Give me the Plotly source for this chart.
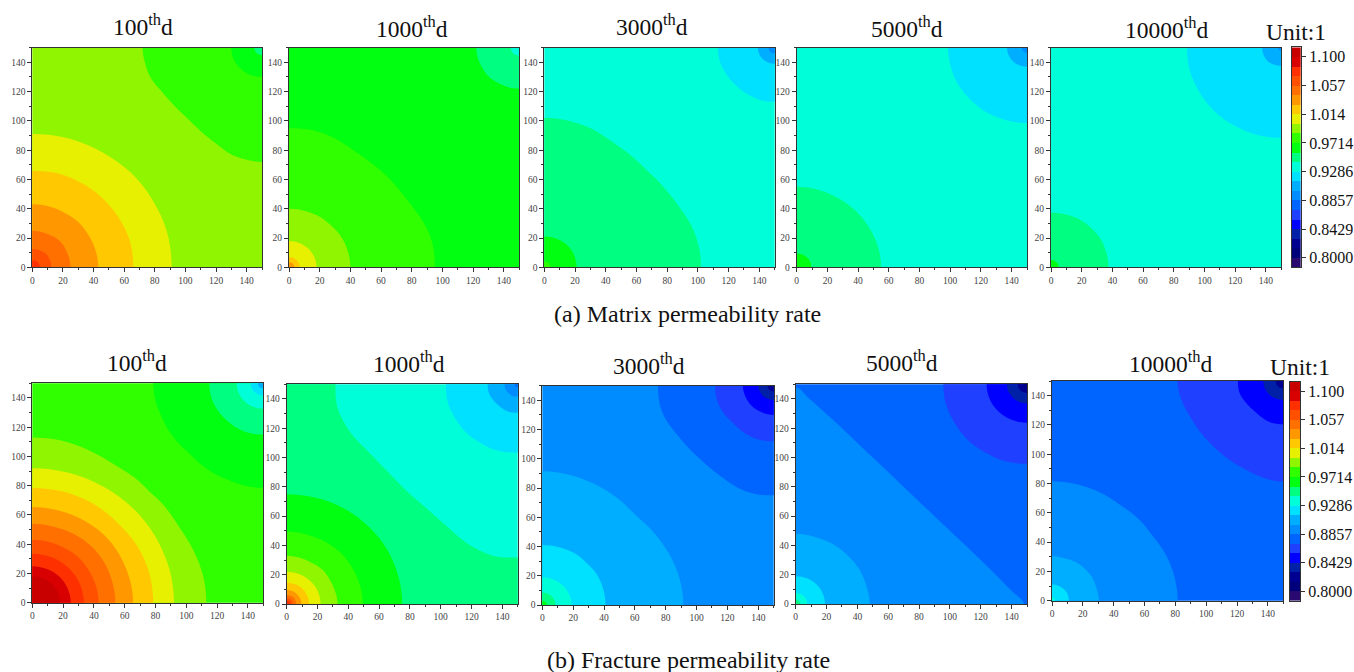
import plotly.graph_objects as go

# ---- colour key: band value, colour, tick labels ----
band_values = [0.7929, 0.8071, 0.8214, 0.8357, 0.85, 0.8643, 0.8786, 0.8929, 0.9071, 0.9214, 0.9357, 0.95,
               0.9643, 0.9786, 0.9929, 1.0071, 1.0214, 1.0357, 1.05, 1.0643, 1.0786, 1.0929, 1.1071]
band_colors = ["#2a0a70", "#00007a", "#000090", "#0020a8", "#0000ff", "#2040ff", "#0064ff", "#008cff",
               "#00aeff", "#00e0ff", "#00ffd8", "#00ff80", "#00ff10", "#30ff00", "#90f500", "#e6f000",
               "#ffc800", "#ff9800", "#ff7000", "#ff5000", "#ff3000", "#d80000", "#c80000"]
key_tick_values = [1.1, 1.0571, 1.0143, 0.9714, 0.9286, 0.8857, 0.8429, 0.8]
key_tick_labels = ["1.100", "1.057", "1.014", "0.9714", "0.9286", "0.8857", "0.8429", "0.8000"]
axis_ticks = [0, 20, 40, 60, 80, 100, 120, 140]
axis_minor_ticks = [10, 30, 50, 70, 90, 110, 130, 150]

# ---- iso-band boundaries ----
# (band index, x along half the curve, y along half the curve); the field mirrors across y = x
a100_bg = 14
a100_low = [(15, [91, 88, 78.5, 64.5], [0, 24, 46, 64.5]), (16, [66, 64, 57, 46.5], [0, 17, 33, 46.5]),
            (17, [43, 41.5, 37, 30.5], [0, 11, 21.5, 30.5]), (18, [25, 23, 18], [0, 9.5, 18]),
            (19, [12.5, 11.5, 9], [0, 5, 9]), (20, [5, 4.6, 3.5], [0, 1.9, 3.5])]
a100_high = [(13, [150, 140, 130, 120, 110, 101.5], [72, 73.5, 77, 84.5, 93, 101.5]),
             (12, [150, 142, 135.9], [130, 131.5, 135.9]),
             (11, [150, 148, 146.5], [145, 145.4, 146.5])]

a1000_bg = 12
a1000_low = [(13, [95, 93.5, 88, 77, 63], [0, 16, 30, 46, 63]), (14, [40, 38.5, 34.5, 28], [0, 10.5, 20, 28]),
             (15, [18, 16.5, 12.7], [0, 7, 12.7]), (16, [7, 6.5, 5], [0, 2.6, 5]),
             (17, [3.5, 3.2, 2.5], [0, 1.3, 2.5])]
a1000_high = [(11, [150, 143, 136, 130.2], [122, 123, 126, 130.2]), (10, [150, 148, 146], [144.5, 145, 146])]

a3000_bg = 10
a3000_low = [(11, [102, 101, 96, 86, 75, 66.5], [0, 12, 28, 44, 58, 66.5]), (12, [21, 19.5, 15], [0, 8, 15]),
             (13, [4, 3.7, 2.8], [0, 1.5, 2.8])]
a3000_high = [(9, [150, 140, 131, 124.5], [113, 114.5, 119, 124.5]), (8, [150, 146, 142.2], [139, 139.8, 142.2]),
              (7, [150, 148.5, 147.2], [146, 146.3, 147.2])]

a5000_bg = 10
a5000_low = [(11, [55, 53, 47, 38.5], [0, 14, 27.5, 38.5]), (12, [9.5, 8.8, 6.7], [0, 3.6, 6.7])]
a5000_high = [(9, [150, 136.5, 125, 113.8], [98.5, 100.5, 105, 113.8]), (8, [150, 145, 140.8], [137, 138, 140.8]),
              (7, [150, 148.7, 147.5], [146.5, 146.8, 147.5])]

a10000_bg = 10
a10000_low = [(11, [37.5, 36, 32.5, 26.5], [0, 10, 19, 26.5]), (12, [5, 4.6, 3.5], [0, 1.9, 3.5])]
a10000_high = [(9, [150, 134, 119, 106.5], [88.5, 90.5, 97, 106.5]), (8, [150, 145, 141], [137.5, 138.5, 141]),
               (7, [150, 149.2, 148.6], [148, 148.2, 148.6])]

b100_bg = 13
b100_low = [(14, [113, 111, 104.5, 94, 85, 76], [0, 18, 36, 54, 67, 76]), (15, [92, 89, 79.5, 65], [0, 23, 46, 65]),
            (16, [78.5, 76, 68, 55], [0, 20, 39, 55]), (17, [65.5, 63, 56.5, 46.5], [0, 17, 33, 46.5]),
            (18, [54, 52, 47, 38.5], [0, 14, 27, 38.5]), (19, [43, 41.5, 37, 30.5], [0, 11, 21.5, 30.5]),
            (20, [33.5, 31, 23.7], [0, 12.5, 23.7]), (21, [25, 23, 17.7], [0, 9.5, 17.7]),
            (22, [18, 16.6, 12.7], [0, 7, 12.7])]
b100_high = [(12, [150, 138, 127, 117, 109, 102], [78.6, 80, 84, 89, 95, 102]),
             (11, [150, 141, 133, 125.5], [115, 116, 119.5, 125.5]),
             (10, [150, 143.5, 137.8], [132.7, 134, 137.8]), (9, [150, 146.8, 144.2], [141.8, 142.4, 144.2]),
             (8, [150, 148.7, 147.5], [146.5, 146.8, 147.5])]

b1000_bg = 10
b1000_low = [(11, [150, 134, 117, 104, 90, 77.5], [31.7, 33, 41.5, 53, 66, 77.5]),
             (12, [75, 72.5, 65, 53], [0, 19, 37.5, 53]), (13, [49.5, 47.5, 42.5, 35], [0, 13, 25, 35]),
             (14, [33, 31.5, 28, 23.3], [0, 8.5, 16.5, 23.3]), (15, [22, 20.3, 15.5], [0, 8.4, 15.5]),
             (16, [14.5, 13.4, 10.3], [0, 5.5, 10.3]), (17, [9.5, 8.8, 6.7], [0, 3.6, 6.7]),
             (18, [6.2, 5.7, 4.4], [0, 2.4, 4.4]), (19, [4, 3.7, 2.8], [0, 1.5, 2.8]),
             (20, [2.2, 2, 1.6], [0, 0.8, 1.6])]
b1000_high = [(9, [150, 136, 125, 116.8], [103.3, 105, 110.5, 116.8]), (8, [150, 143.5, 136.5], [130.5, 131.5, 136.5]),
              (7, [150, 146.8, 144], [141.5, 142, 144]), (6, [150, 149.2, 148.6], [148, 148.2, 148.6])]

b3000_bg = 7
b3000_low = [(8, [91.5, 89, 82.7, 72, 61], [0, 18, 34, 50, 61]), (9, [41, 39.5, 35, 28.7], [0, 11, 21.5, 28.7]),
             (10, [19, 17.5, 13.4], [0, 7, 13.4]), (11, [8.5, 7.9, 6], [0, 3.2, 6]), (12, [3, 2.8, 2.1], [0, 1.1, 2.1])]
b3000_high = [(6, [150, 138, 127, 117, 109, 101], [75, 76, 80, 87, 93.5, 101]),
              (5, [150, 141, 132, 124], [112, 113, 117, 124]),
              (4, [150, 143, 136], [130, 131.5, 136]), (3, [150, 146, 143], [140, 141, 143]),
              (2, [150, 148.5, 147.2], [146, 146.3, 147.2])]

b5000_bg = 6
b5000_low = [(7, [148, 140, 125, 100, 75], [0, 9, 25, 50, 75]), (8, [48, 46, 41, 33.5], [0, 12, 24, 33.5]),
             (9, [19, 17.5, 13.4], [0, 7.3, 13.4]), (10, [7.5, 6.9, 5.3], [0, 2.9, 5.3]), (11, [3, 2.8, 2.1], [0, 1.1, 2.1])]
b5000_high = [(5, [150, 136, 122, 111.8], [95.8, 97.5, 104, 111.8]), (4, [150, 140, 131.5], [123.8, 125.8, 131.5]),
              (3, [150, 145, 140.8], [137, 138, 140.8]), (2, [150, 147.7, 145.8], [144, 144.5, 145.8]),
              (1, [150, 149.2, 148.6], [148, 148.2, 148.6])]

b10000_bg = 6
b10000_low = [(7, [81.5, 79.5, 74, 65.5, 56], [0, 16, 31, 44, 56]), (8, [30.5, 29, 26, 21.5], [0, 8, 16, 21.5]),
              (9, [11, 10.2, 7.8], [0, 4.2, 7.8]), (10, [2, 1.8, 1.4], [0, 0.8, 1.4])]
b10000_high = [(5, [150, 137, 124, 114, 105], [81.3, 84, 90.5, 97, 105]), (4, [150, 141, 130.3], [120.5, 122, 130.3]),
               (3, [150, 145, 140.8], [137, 138, 140.8]), (2, [150, 148, 146.5], [145, 145.4, 146.5])]

# ---- page layout, in screen pixels ----
W, H = 1354, 672
panels = [
    ("100<sup>th</sup>d", a100_bg, a100_low, a100_high, (32.3, 262, 47.7, 267.3), (143, 25)),
    ("1000<sup>th</sup>d", a1000_bg, a1000_low, a1000_high, (289, 519.3, 47.7, 267.3), (412, 27)),
    ("3000<sup>th</sup>d", a3000_bg, a3000_low, a3000_high, (544.3, 774.7, 47.7, 267.3), (652, 25)),
    ("5000<sup>th</sup>d", a5000_bg, a5000_low, a5000_high, (796.7, 1027, 47.7, 267.3), (907, 27)),
    ("10000<sup>th</sup>d", a10000_bg, a10000_low, a10000_high, (1051, 1281.3, 47.7, 267.3), (1167, 28)),
    ("100<sup>th</sup>d", b100_bg, b100_low, b100_high, (32.3, 263.3, 383.3, 602.7), (137, 361)),
    ("1000<sup>th</sup>d", b1000_bg, b1000_low, b1000_high, (286.7, 517.7, 384.3, 604), (409, 362)),
    ("3000<sup>th</sup>d", b3000_bg, b3000_low, b3000_high, (542.3, 773.7, 385.7, 605), (649, 364)),
    ("5000<sup>th</sup>d", b5000_bg, b5000_low, b5000_high, (795.7, 1027, 384.3, 604), (902, 361)),
    ("10000<sup>th</sup>d", b10000_bg, b10000_low, b10000_high, (1052, 1283.3, 381, 600.7), (1171, 362)),
]
keys = [((1291.7, 1301, 47.3, 267.3), (1296, 32)), ((1290, 1300, 381.7, 600.7), (1300, 367))]
captions = [("(a) Matrix permeability rate", 687, 314), ("(b) Fracture permeability rate", 688, 660)]

SERIF = "Liberation Serif"
INK = "#333333"


def dom_x(a, b):
    return [a / W, b / W]


def dom_y(top, bottom):
    return [1 - bottom / H, 1 - top / H]


def closed_outline(xs, ys, closing):
    px = list(xs) + list(reversed(ys[:-1]))
    py = list(ys) + list(reversed(xs[:-1]))
    # continue the curve across the frame so that the spline meets the edge squarely
    if py[0] == 0:
        start = (px[1], -py[1])
    else:
        start = (300 - px[1], py[1])
    if px[-1] == 0:
        end = (-px[-2], py[-2])
    else:
        end = (px[-2], 300 - py[-2])
    cx = [start[0]] + px + [end[0]] + [c[0] for c in closing]
    cy = [start[1]] + py + [end[1]] + [c[1] for c in closing]
    return cx, cy


LOW_CLOSE = [(-40, 190), (-40, -40), (190, -40)]
HIGH_CLOSE = [(190, 190)]

fig = go.Figure()
layout = {}
annotations = []

for i, (title, bg, low, high, box, tpos) in enumerate(panels, start=1):
    xa = "x" if i == 1 else f"x{i}"
    ya = "y" if i == 1 else f"y{i}"
    fig.add_trace(go.Scatter(x=[-40, 190, 190, -40], y=[-40, -40, 190, 190], fill="toself", mode="lines",
                             line=dict(width=0), fillcolor=band_colors[bg], showlegend=False,
                             hoverinfo="skip", xaxis=xa, yaxis=ya))
    for group, closing in ((high, HIGH_CLOSE), (low, LOW_CLOSE)):
        for band, xs, ys in group:
            cx, cy = closed_outline(xs, ys, closing)
            fig.add_trace(go.Scatter(x=cx, y=cy, fill="toself", mode="lines",
                                     line=dict(width=0, shape="spline", smoothing=1.0),
                                     fillcolor=band_colors[band], showlegend=False,
                                     name=str(band_values[band]), hoverinfo="name", xaxis=xa, yaxis=ya))
    common = dict(range=[0, 150], tickmode="array", tickvals=axis_ticks, ticks="outside", ticklen=4, tickwidth=1,
                  tickcolor=INK, showline=True, linecolor=INK, linewidth=1, mirror=True, showgrid=False,
                  zeroline=False, automargin=False, tickfont=dict(family=SERIF, size=9.5, color="#444444"),
                  minor=dict(tickmode="array", tickvals=axis_minor_ticks, ticks="outside",
                             ticklen=2, tickcolor=INK, showgrid=False))
    layout["xaxis" if i == 1 else f"xaxis{i}"] = dict(domain=dom_x(box[0], box[1]), anchor=ya, **common)
    layout["yaxis" if i == 1 else f"yaxis{i}"] = dict(domain=dom_y(box[2], box[3]), anchor=xa, **common)
    annotations.append(dict(text=title, x=tpos[0] / W, y=1 - tpos[1] / H, xref="paper", yref="paper",
                            xanchor="center", yanchor="middle", showarrow=False,
                            font=dict(family=SERIF, size=23.5, color="#111111")))

for j, (box, upos) in enumerate(keys):
    i = len(panels) + 1 + j
    fig.add_trace(go.Heatmap(x=[0], y=band_values, z=[[v] for v in band_values],
                             colorscale=[[k / 22, c] for k, c in enumerate(band_colors)],
                             zmin=band_values[0], zmax=band_values[-1], showscale=False,
                             hoverinfo="skip", xaxis=f"x{i}", yaxis=f"y{i}"))
    layout[f"xaxis{i}"] = dict(domain=dom_x(box[0], box[1]), anchor=f"y{i}", showticklabels=False, ticks="",
                               showgrid=False, zeroline=False, showline=True, linecolor=INK, linewidth=1,
                               mirror=True, automargin=False)
    layout[f"yaxis{i}"] = dict(domain=dom_y(box[2], box[3]), anchor=f"x{i}", side="right",
                               range=[0.7857, 1.1143], tickmode="array", tickvals=key_tick_values,
                               ticktext=key_tick_labels, ticks="outside", ticklen=4, tickcolor=INK,
                               showgrid=False, zeroline=False, showline=True, linecolor=INK, linewidth=1, mirror=True,
                               automargin=False, tickfont=dict(family=SERIF, size=16, color="#111111"))
    annotations.append(dict(text="Unit:1", x=upos[0] / W, y=1 - upos[1] / H, xref="paper", yref="paper",
                            xanchor="center", yanchor="middle", showarrow=False,
                            font=dict(family=SERIF, size=23.5, color="#111111")))

for text, px, py in captions:
    annotations.append(dict(text=text, x=px / W, y=1 - py / H, xref="paper", yref="paper",
                            xanchor="center", yanchor="middle", showarrow=False,
                            font=dict(family=SERIF, size=24, color="#111111")))

fig.update_layout(width=W, height=H, margin=dict(l=0, r=0, t=0, b=0), paper_bgcolor="white",
                  plot_bgcolor="white", showlegend=False, annotations=annotations, **layout)

fig.write_html("out.html", config={"displayModeBar": False},
               post_script="document.body.style.margin='0';document.body.style.overflow='hidden';")
